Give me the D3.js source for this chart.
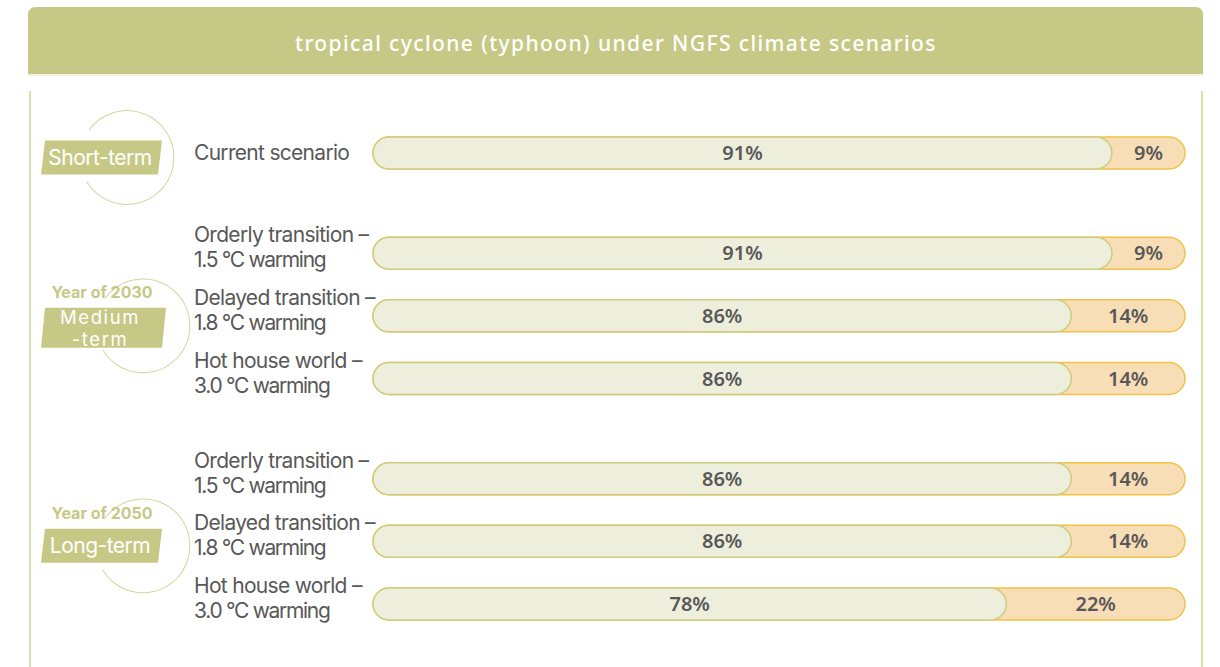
<!DOCTYPE html>
<html>
<head>
<meta charset="utf-8">
<script src="https://cdn.jsdelivr.net/npm/d3@7"></script>
<style>
  html, body { margin: 0; padding: 0; background: #fff; }
  svg { display: block; }
</style>
</head>
<body>
<div id="chart"></div>
<script>
// chart data
const title = "tropical cyclone (typhoon) under NGFS climate scenarios";
const groupNames = [["Short-term"], ["Medium", "-term"], ["Long-term"]];
const groupYears = ["", "Year of 2030", "Year of 2050"];
const scenarioLines = [
  ["Current scenario"],
  ["Orderly transition –", "1.5 °C warming"],
  ["Delayed transition –", "1.8 °C warming"],
  ["Hot house world –", "3.0 °C warming"],
  ["Orderly transition –", "1.5 °C warming"],
  ["Delayed transition –", "1.8 °C warming"],
  ["Hot house world –", "3.0 °C warming"]
];
const rowGroup = [0, 1, 1, 1, 2, 2, 2];
const lowShare = [91, 91, 86, 86, 86, 86, 78];
const highShare = [9, 9, 14, 14, 14, 14, 22];

const W = 1220, H = 667;
const olive = "#c6c986", lineCol = "#dcdcae", textCol = "#585858";

const svg = d3.select("#chart").append("svg")
  .attr("width", W).attr("height", H);

// header band
svg.append("path")
  .attr("d", "M28,74 V15 Q28,7 36,7 H1195 Q1203,7 1203,15 V74 Z")
  .attr("fill", olive);
svg.append("rect").attr("x", 28).attr("y", 74).attr("width", 1175).attr("height", 2)
  .attr("fill", "#f3f3e4");
svg.append("text")
  .attr("x", 616).attr("y", 51)
  .attr("text-anchor", "middle")
  .attr("fill", "#fff")
  .style("font", "500 21px 'Noto Sans', sans-serif")
  .style("letter-spacing", "1.4px")
  .text(title);

// side frame lines
svg.append("line").attr("x1", 30).attr("x2", 30).attr("y1", 91).attr("y2", H)
  .attr("stroke", lineCol).attr("stroke-width", 2);
svg.append("line").attr("x1", 1202).attr("x2", 1202).attr("y1", 91).attr("y2", H)
  .attr("stroke", lineCol).attr("stroke-width", 2);

// scales
const slot = rowGroup.map((g, i) => i + 0.6 * g);
const y = d3.scaleLinear().domain([0, d3.max(slot)]).range([153, 604]);
const x = d3.scaleLinear().domain([0, 100]).range([373, 1185]);
const barH = 32, r = barH / 2;

const rows = svg.selectAll("g.row")
  .data(lowShare.map((v, i) => ({ i, low: v, high: highShare[i], lines: scenarioLines[i] })))
  .join("g")
  .attr("class", "row")
  .attr("transform", d => `translate(0, ${y(slot[d.i])})`);

// scenario labels
rows.each(function(d) {
  const t = d3.select(this).append("text")
    .attr("fill", textCol)
    .style("font", "400 21px Inter, sans-serif");
  const one = d.lines.length === 1;
  d.lines.forEach((s, k) => {
    t.append("tspan")
      .attr("x", 194)
      .attr("y", one ? 7 : -11 + k * 25)
      .style("letter-spacing", k === 0 ? "-0.7px" : "-1.3px")
      .text(s);
  });
});

// full bar (high share colour underneath)
rows.append("rect")
  .attr("x", x(0)).attr("y", -r)
  .attr("width", x(100) - x(0)).attr("height", barH)
  .attr("rx", r)
  .attr("fill", "#f8deb7")
  .attr("stroke", "#f2c246").attr("stroke-width", 1.5);

// low share segment
rows.append("rect")
  .attr("x", x(0)).attr("y", -r)
  .attr("width", d => x(d.low) - x(0)).attr("height", barH)
  .attr("rx", r)
  .attr("fill", "#edefdc")
  .attr("stroke", "#cfcb7e").attr("stroke-width", 1.5);

rows.append("text")
  .attr("x", d => (x(0) + x(d.low)) / 2)
  .attr("y", 7)
  .attr("text-anchor", "middle")
  .attr("fill", textCol)
  .style("font", "600 20px 'Noto Sans', sans-serif")
  .text(d => d.low + "%");

rows.append("text")
  .attr("x", d => (x(d.low) + x(100)) / 2)
  .attr("y", 7)
  .attr("text-anchor", "middle")
  .attr("fill", textCol)
  .style("font", "600 20px 'Noto Sans', sans-serif")
  .text(d => d.high + "%");

// group badges
const groups = groupNames.map((name, g) => {
  const ids = d3.range(rowGroup.length).filter(i => rowGroup[i] === g);
  const mid = d3.mean(ids, i => y(slot[i]));
  return { g, name, year: groupYears[g], mid };
});

const circleArc = d3.arc()
  .innerRadius(46.4).outerRadius(47.4)
  .startAngle(-54 * Math.PI / 180).endAngle(239 * Math.PI / 180);

groups.forEach(d => {
  const two = d.name.length > 1;
  const cy = d.mid + (two ? 10 : 4.5);
  const cx = d.g === 0 ? 127 : 143;
  const gg = svg.append("g");
  gg.append("path")
    .attr("transform", `translate(${cx}, ${cy})`)
    .attr("d", circleArc)
    .attr("fill", "#d6d49c");

  const bc = d.mid + (two ? 12 : 4.5);
  const bh = two ? 40 : 34;
  const top = bc - bh / 2, bot = bc + bh / 2;
  const right = two ? 166 : 162;
  gg.append("path")
    .attr("d", `M45,${top} L${right},${top} L${right - 4},${bot} L41,${bot} Z`)
    .attr("fill", olive);

  const t = gg.append("text")
    .attr("text-anchor", "middle")
    .attr("fill", "#fff")
    .style("font", two ? "400 18.5px Inter, sans-serif" : "400 21px Inter, sans-serif")
    .style("letter-spacing", two ? "1.6px" : "-0.5px");
  d.name.forEach((s, k) => {
    t.append("tspan")
      .attr("x", 100)
      .attr("y", two ? top + 16 + k * 22.5 : bc + 7.5)
      .text(s);
  });

  if (d.year) {
    gg.append("text")
      .attr("x", 102)
      .attr("y", top - 10)
      .attr("text-anchor", "middle")
      .attr("fill", olive)
      .style("font", "700 16px Inter, sans-serif")
      .text(d.year);
  }
});
</script>
</body>
</html>
